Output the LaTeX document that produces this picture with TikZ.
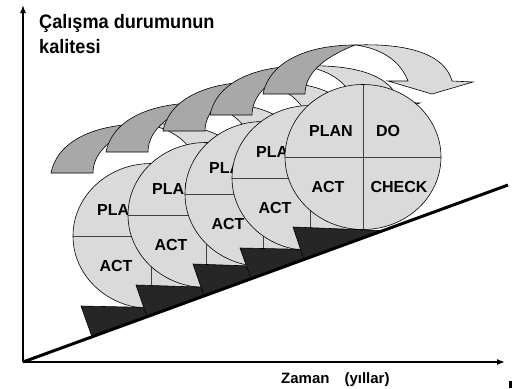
\documentclass[tikz,border=0pt]{standalone}
\usepackage{fontspec}
\setmainfont{Liberation Sans}
\newfontfamily\titulo{Liberation Sans}[FakeStretch=0.93]
\usepackage{tikz}
\usetikzlibrary{arrows.meta,calc}

\definecolor{cinzaescuro}{gray}{0.66}
\definecolor{cinzaclaro}{gray}{0.855}
\definecolor{degrau}{gray}{0.15}

\begin{document}
\begin{tikzpicture}[x=1pt,y=-1pt,
		rotulo/.style={font=\fontsize{16}{19}\selectfont\bfseries,inner sep=0pt},
		contorno/.style={draw=black,line width=0.6pt}]
	\useasboundingbox (0,0) rectangle (513,388);
	% Pontos da reta inclinada
	\coordinate (origem) at (23,362);
	\coordinate (fim) at (508,185);
	
	% Ciclos PDCA, do fundo para a frente
	\foreach \dx/\dy [count=\i] in {-212/79,-157/58,-100/37,-53/21,0/0}{
		\begin{scope}[shift={(\dx,\dy)}]
			% Seta curva: parte escura e parte clara
			\filldraw[contorno,fill=cinzaescuro] (263,94) .. controls (270,60) and (310,45) .. (355,45)
				.. controls (330,55) and (305,70) .. (305,94) -- cycle;
			\filldraw[contorno,fill=cinzaclaro] (355,45) .. controls (410,43) and (445,55) .. (452,81)
				-- (473,82) -- (432,94) -- (388,81) -- (408,81)
				.. controls (400,60) and (380,48) .. (355,45) -- cycle;
			% Circulo dividido em quatro
			\filldraw[contorno,fill=cinzaclaro] (363,157) ellipse (78 and 72.5);
			\draw[contorno,draw=black!75] (285,157) -- (441,157);
			\draw[contorno,draw=black!75] (363,84.5) -- (363,229.5);
			\node[rotulo] (plan\i) at (331,131) {PLAN};
			\node[rotulo] (do\i) at (388,131) {DO};
			\node[rotulo] (act\i) at (328,187) {ACT};
			\node[rotulo] (check\i) at (399,187) {CHECK};
		\end{scope}
		% Degrau sobre a reta
		\filldraw[contorno,fill=degrau] (293+\dx,227+\dy)
			-- ($(origem)!{(281+\dx)/485}!(fim)$)
			-- ($(origem)!{(360+\dx)/485}!(fim)$) -- cycle;
	}
	
	% Reta da melhoria
	\draw[line width=3pt] (origem) -- (fim);
	
	% Eixos coordenados
	\draw[line width=1.5pt,-{Latex[length=8pt,width=6pt]}] (origem) -- (23,5);
	\draw[line width=1.5pt,-{Latex[length=8pt,width=6pt]}] (origem) -- (505,362);
	\node[font=\titulo\fontsize{19.5}{25}\selectfont\bfseries,align=left,anchor=north west,inner sep=0pt]
		(qualidade) at (39,14) {Çalışma durumunun\\kalitesi};
	\node[font=\fontsize{15}{17}\selectfont\bfseries,anchor=base west,inner sep=0pt]
		(tempo) at (281,383) {Zaman\quad(yıllar)};
	\fill (509,381) rectangle (512,388);
\end{tikzpicture}
\end{document}
